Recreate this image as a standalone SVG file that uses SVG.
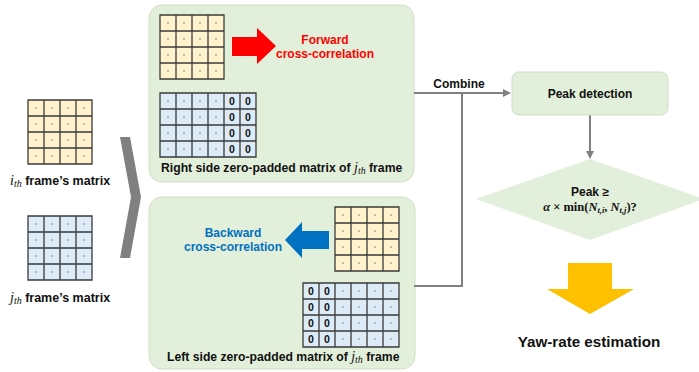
<svg xmlns="http://www.w3.org/2000/svg" width="699" height="372" viewBox="0 0 699 372">
<defs>
<style>
.panel{fill:#E2EFDA;stroke:#D0DEC6;stroke-width:1}
.yel{fill:#FFF2CC}
.blu{fill:#DDEBF7}
.grid{stroke:#3A3A3A;stroke-width:1.3;fill:none}
.dot{fill:#777}
.t{font-family:"Liberation Sans",Arial,sans-serif;font-weight:bold;fill:#111}
.z{font-family:"Liberation Sans",Arial,sans-serif;font-weight:bold;font-size:10.5px;fill:#111;text-anchor:middle}
.m{font-family:"Liberation Serif","Times New Roman",serif;font-style:italic}
.conn{stroke:#808080;stroke-width:2;fill:none}
</style>
<marker id="ah" markerWidth="8" markerHeight="8" refX="6" refY="4" orient="auto" markerUnits="userSpaceOnUse">
<path d="M0,0 L8,4 L0,8 z" fill="#808080"/>
</marker>
<g id="dots4">
<circle class="dot" cx="8" cy="8" r="0.8"/><circle class="dot" cx="24" cy="8" r="0.8"/><circle class="dot" cx="40" cy="8" r="0.8"/><circle class="dot" cx="56" cy="8" r="0.8"/>
<circle class="dot" cx="8" cy="24" r="0.8"/><circle class="dot" cx="24" cy="24" r="0.8"/><circle class="dot" cx="40" cy="24" r="0.8"/><circle class="dot" cx="56" cy="24" r="0.8"/>
<circle class="dot" cx="8" cy="40" r="0.8"/><circle class="dot" cx="24" cy="40" r="0.8"/><circle class="dot" cx="40" cy="40" r="0.8"/><circle class="dot" cx="56" cy="40" r="0.8"/>
<circle class="dot" cx="8" cy="56" r="0.8"/><circle class="dot" cx="24" cy="56" r="0.8"/><circle class="dot" cx="40" cy="56" r="0.8"/><circle class="dot" cx="56" cy="56" r="0.8"/>
</g>
<path id="grid4" class="grid" d="M0,0H64V64H0Z M16,0V64 M32,0V64 M48,0V64 M0,16H64 M0,32H64 M0,48H64"/>
<path id="grid6" class="grid" d="M0,0H96V64H0Z M16,0V64 M32,0V64 M48,0V64 M64,0V64 M80,0V64 M0,16H96 M0,32H96 M0,48H96"/>
<g id="zcol">
<text class="z" x="8" y="12">0</text><text class="z" x="8" y="28">0</text><text class="z" x="8" y="44">0</text><text class="z" x="8" y="60">0</text>
</g>
</defs>
<rect width="699" height="372" fill="#fff"/>

<g id="input-i">
<rect class="yel" x="28" y="100" width="64" height="64"/>
<use href="#dots4" x="28" y="100"/>
<use href="#grid4" x="28" y="100"/>
<text class="t" x="10" y="185" font-size="12.5"><tspan class="m" font-weight="normal" font-size="14">i</tspan><tspan class="m" font-weight="normal" font-size="10" dy="2">th</tspan><tspan dy="-2"> frame’s matrix</tspan></text>
</g>

<g id="input-j">
<rect class="blu" x="28" y="216" width="64" height="64"/>
<use href="#dots4" x="28" y="216"/>
<use href="#grid4" x="28" y="216"/>
<text class="t" x="10" y="302" font-size="12.5"><tspan class="m" font-weight="normal" font-size="14">j</tspan><tspan class="m" font-weight="normal" font-size="10" dy="2">th</tspan><tspan dy="-2"> frame’s matrix</tspan></text>
</g>

<g id="chevron">
<polygon points="120,137 130,137 141,197 130,258 120,258 131,197" fill="#808080"/>
</g>

<g id="forward-panel">
<rect class="panel" x="149" y="5" width="265" height="177" rx="13"/>
<rect class="yel" x="160" y="15" width="64" height="64"/>
<use href="#dots4" x="160" y="15"/>
<use href="#grid4" x="160" y="15"/>
<polygon points="232,37 257,37 257,28 276,46 257,64 257,56 232,56" fill="#FF0000"/>
<text class="t" x="325" y="44" font-size="12" text-anchor="middle" style="fill:#FF0000">Forward</text>
<text class="t" x="325" y="58" font-size="12" text-anchor="middle" style="fill:#FF0000">cross-correlation</text>
<rect class="blu" x="160" y="93" width="96" height="64"/>
<use href="#dots4" x="160" y="93"/>
<use href="#zcol" x="224" y="93"/>
<use href="#zcol" x="240" y="93"/>
<use href="#grid6" x="160" y="93"/>
<text class="t" x="161" y="172" font-size="12.2">Right side zero-padded matrix of <tspan class="m" font-weight="normal" font-size="14">j</tspan><tspan class="m" font-weight="normal" font-size="10" dy="2">th</tspan><tspan dy="-2"> frame</tspan></text>
</g>

<g id="backward-panel">
<rect class="panel" x="149" y="197" width="266" height="172" rx="13"/>
<rect class="yel" x="335" y="207" width="64" height="64"/>
<use href="#dots4" x="335" y="207"/>
<use href="#grid4" x="335" y="207"/>
<polygon points="329,231 302,231 302,222 285,240 302,258 302,249 329,249" fill="#0070C0"/>
<text class="t" x="233" y="237" font-size="12" text-anchor="middle" style="fill:#0070C0">Backward</text>
<text class="t" x="233" y="251" font-size="12" text-anchor="middle" style="fill:#0070C0">cross-correlation</text>
<rect class="blu" x="303" y="283" width="96" height="64"/>
<use href="#dots4" x="335" y="283"/>
<use href="#zcol" x="303" y="283"/>
<use href="#zcol" x="319" y="283"/>
<use href="#grid6" x="303" y="283"/>
<text class="t" x="167" y="361" font-size="12.2">Left side zero-padded matrix of <tspan class="m" font-weight="normal" font-size="14">j</tspan><tspan class="m" font-weight="normal" font-size="10" dy="2">th</tspan><tspan dy="-2"> frame</tspan></text>
</g>

<g id="connectors">
<path class="conn" d="M414,93 H509" marker-end="url(#ah)"/>
<path class="conn" d="M462,93 V286 H414"/>
<path class="conn" d="M590,115 V157" marker-end="url(#ah)"/>
<text class="t" x="459" y="88" font-size="12" text-anchor="middle">Combine</text>
</g>

<g id="peak-detection">
<rect x="512" y="72" width="156" height="43" rx="7" fill="#E2EFDA" stroke="#D0DEC6"/>
<text class="t" x="590" y="98" font-size="12" text-anchor="middle">Peak detection</text>
</g>

<g id="decision">
<polygon points="590,159 704,199 590,240 476,199" fill="#E2EFDA"/>
<text class="t" x="590" y="196" font-size="12" text-anchor="middle">Peak ≥</text>
<text x="590" y="211" font-size="12.5" text-anchor="middle" font-family="Liberation Serif,serif" font-weight="bold" fill="#111"><tspan font-style="italic">α</tspan> × min(<tspan font-style="italic">N</tspan><tspan font-size="8.5" font-style="italic" dy="2">t,i</tspan><tspan dy="-2">, </tspan><tspan font-style="italic">N</tspan><tspan font-size="8.5" font-style="italic" dy="2">t,j</tspan><tspan dy="-2">)?</tspan></text>
</g>

<g id="yaw-rate">
<polygon points="568,263 612,263 612,289 634,289 590,314 547,289 568,289" fill="#FFC000"/>
<text class="t" x="589" y="347" font-size="15.2" text-anchor="middle">Yaw-rate estimation</text>
</g>
</svg>
